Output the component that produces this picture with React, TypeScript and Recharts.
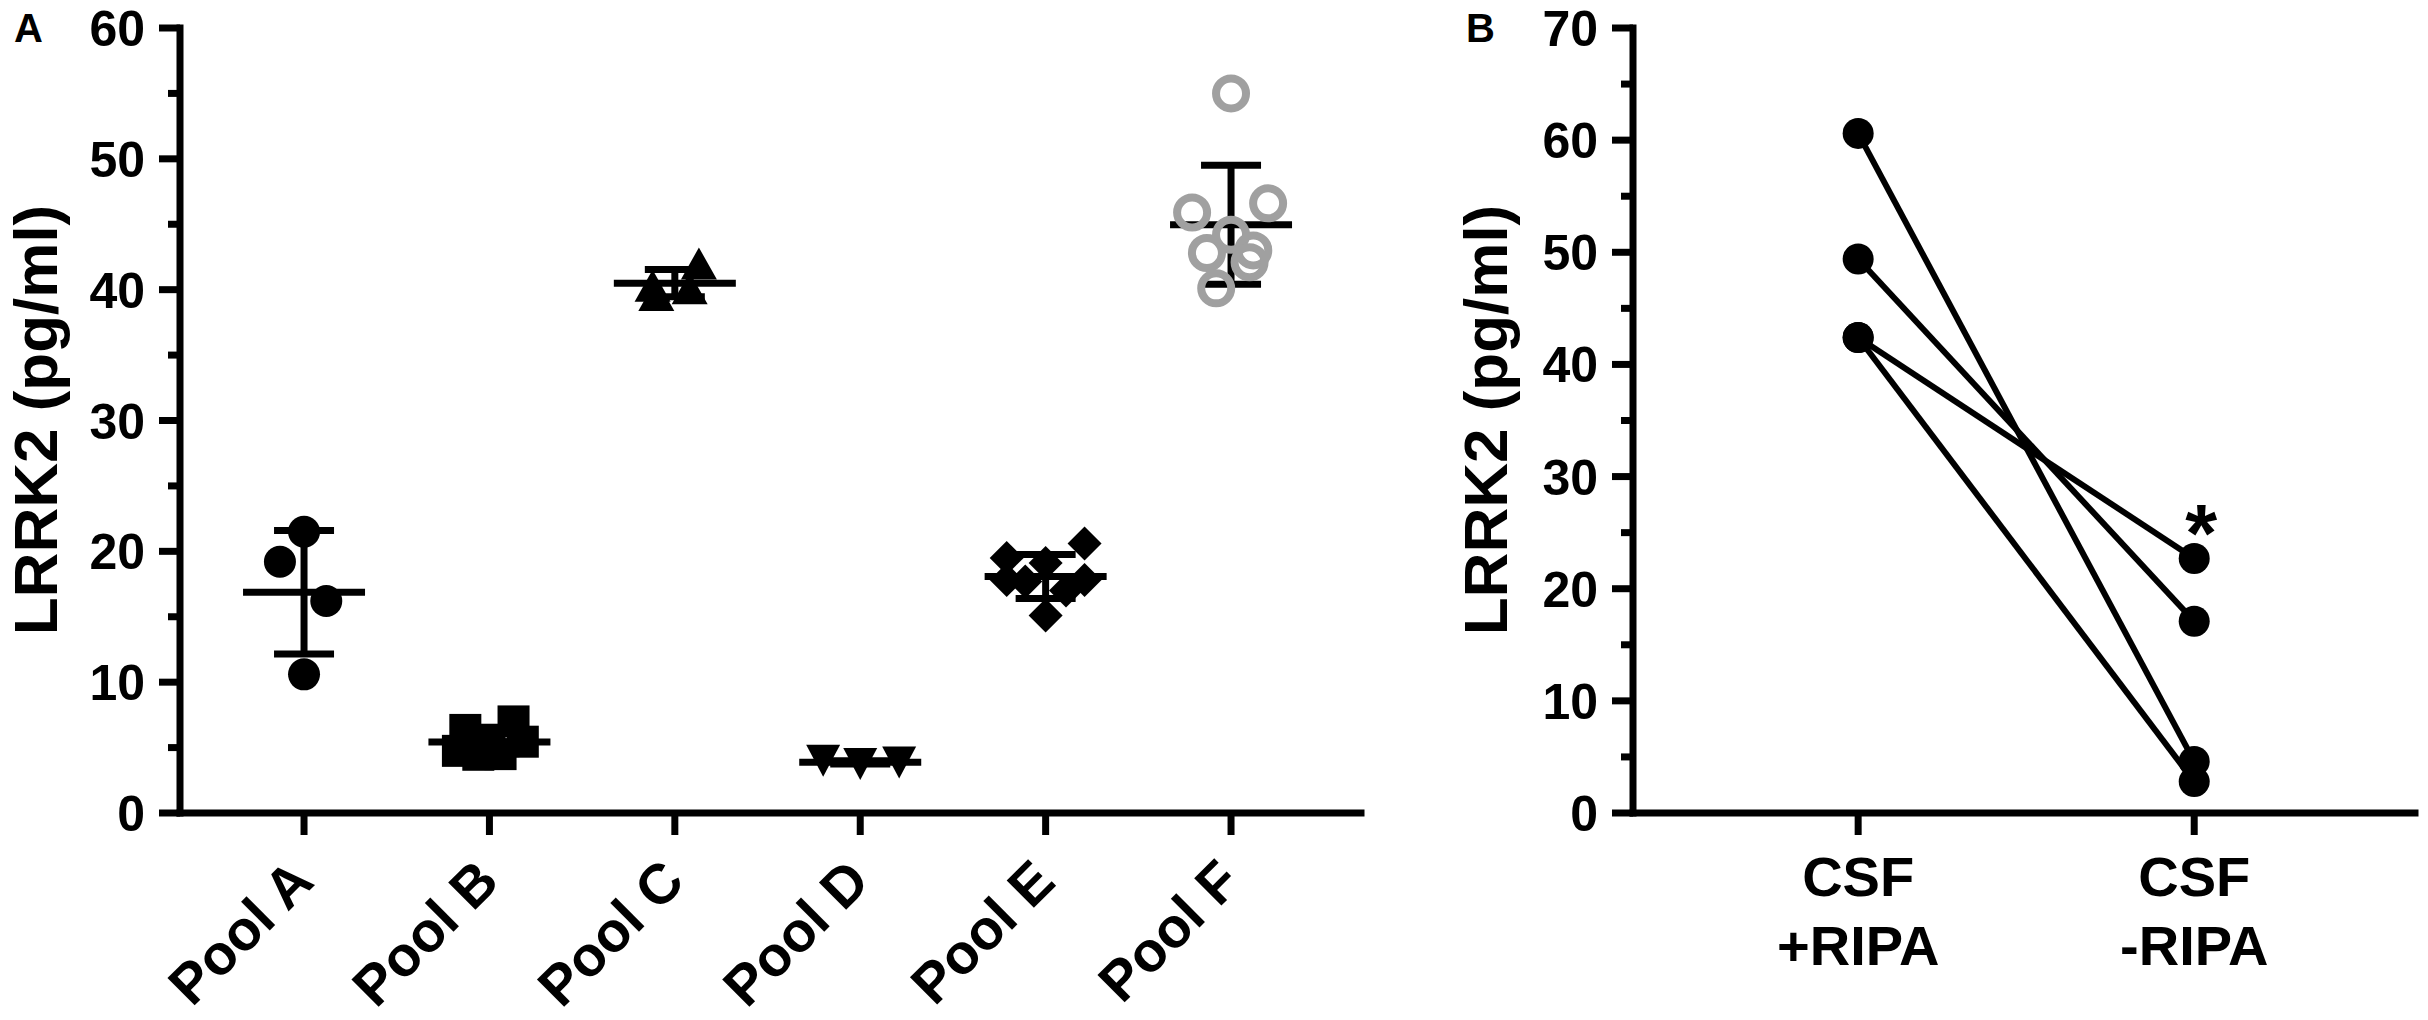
import React from "react";
import {
  ScatterChart, Scatter, ComposedChart, Line, XAxis, YAxis, ErrorBar, LabelList,
} from "recharts";

const FONT = '"Liberation Sans", Arial, Helvetica, sans-serif';

// Panel A — LRRK2 in six CSF pools, individual values + mean ± SD
const pools = ["Pool A", "Pool B", "Pool C", "Pool D", "Pool E", "Pool F"];
const poolA = [21.5, 19.2, 16.2, 10.6];
const poolB = [6.35, 7.0, 5.45, 4.75, 4.45, 4.5, 5.6, 5.3];
const poolC = [42.0, 40.3, 39.6, 40.1];
const poolD = [4.0, 3.75, 3.86];
const poolE = [20.6, 19.5, 19.1, 17.7, 17.8, 17.0, 15.1, 17.8];
const poolF = [55.0, 45.9, 46.6, 44.2, 42.8, 43.0, 42.1, 40.1];
// horizontal scatter of the points inside each column (category units)
const spreadA = [0, -0.13, 0.12, 0];
const spreadB = [-0.13, 0.13, 0.18, -0.17, -0.06, 0.06, 0.0, -0.1];
const spreadC = [0.13, -0.12, -0.1, 0.08];
const spreadD = [-0.2, 0, 0.21];
const spreadE = [0.21, -0.21, 0, -0.11, 0.21, 0.11, 0, -0.21];
const spreadF = [0, -0.21, 0.2, 0, -0.13, 0.12, 0.1, -0.08];
const ticksA = [0, 5, 10, 15, 20, 25, 30, 35, 40, 45, 50, 55, 60];

// Panel B — paired CSF samples with / without RIPA
const conditions = [["CSF", "+RIPA"], ["CSF", "-RIPA"]];
const withRipa = [60.6, 49.4, 42.4, 42.4];
const withoutRipa = [4.6, 17.1, 22.7, 2.8];
const starSample = 2; // sample marked with *
const ticksB = [0, 5, 10, 15, 20, 25, 30, 35, 40, 45, 50, 55, 60, 65, 70];

const mean = (v: number[]) => v.reduce((a, b) => a + b, 0) / v.length;
const sd = (v: number[]) => {
  const m = mean(v);
  return Math.sqrt(v.reduce((a, b) => a + (b - m) * (b - m), 0) / (v.length - 1));
};

const txt = { fontFamily: FONT, fontWeight: 700, fill: "#000" } as const;

// marker shapes
const dot = (p: any) => <circle cx={p.cx} cy={p.cy} r={16} fill="#000" />;
const square = (p: any) => <rect x={p.cx - 16} y={p.cy - 16} width={32} height={32} fill="#000" />;
const triUp = (p: any) => (
  <path d={`M${p.cx},${p.cy - 16} L${p.cx + 18},${p.cy + 16} L${p.cx - 18},${p.cy + 16} Z`} fill="#000" />
);
const triDown = (p: any) => (
  <path d={`M${p.cx - 17},${p.cy - 16} L${p.cx + 17},${p.cy - 16} L${p.cx},${p.cy + 16} Z`} fill="#000" />
);
const diamond = (p: any) => (
  <path d={`M${p.cx},${p.cy - 17} L${p.cx + 17},${p.cy} L${p.cx},${p.cy + 17} L${p.cx - 17},${p.cy} Z`} fill="#000" />
);
const ring = (p: any) => <circle cx={p.cx} cy={p.cy} r={15} fill="none" stroke="#a0a0a0" strokeWidth={8} />;
const meanLine = (p: any) => (
  <line x1={p.cx - 61} y1={p.cy} x2={p.cx + 61} y2={p.cy} stroke="#000" strokeWidth={7} />
);

const groups = [
  { values: poolA, spread: spreadA, shape: dot },
  { values: poolB, spread: spreadB, shape: square },
  { values: poolC, spread: spreadC, shape: triUp },
  { values: poolD, spread: spreadD, shape: triDown },
  { values: poolE, spread: spreadE, shape: diamond },
  { values: poolF, spread: spreadF, shape: ring },
];

// y ticks: long tick + label every 10, short tick at 5s
const YTick = (p: any) => {
  const v = p.payload.value;
  const major = v % 10 === 0;
  return (
    <g>
      <line x1={p.x - (major ? 21 : 12)} y1={p.y} x2={p.x} y2={p.y} stroke="#000" strokeWidth={7} />
      {major && (
        <text x={p.x - 35} y={p.y + 18} textAnchor="end" fontSize={50} style={txt}>
          {v}
        </text>
      )}
    </g>
  );
};

const PoolTick = (p: any) => {
  const ax = p.x + 12;
  const ay = p.y + 71;
  return (
    <g>
      <line x1={p.x} y1={p.y} x2={p.x} y2={p.y + 22} stroke="#000" strokeWidth={7} />
      <text x={ax} y={ay} textAnchor="end" fontSize={56} style={txt} transform={`rotate(-45, ${ax}, ${ay})`}>
        {pools[p.payload.value]}
      </text>
    </g>
  );
};

const CondTick = (p: any) => {
  const lines = conditions[p.payload.value];
  return (
    <g>
      <line x1={p.x} y1={p.y} x2={p.x} y2={p.y + 22} stroke="#000" strokeWidth={7} />
      <text textAnchor="middle" fontSize={56} style={txt}>
        <tspan x={p.x} y={p.y + 83}>{lines[0]}</tspan>
        <tspan x={p.x} y={p.y + 152}>{lines[1]}</tspan>
      </text>
    </g>
  );
};

const title = (x: number, letter: string, lx: number) => () => (
  <g>
    <text x={lx} y={42} fontSize={40} style={txt}>{letter}</text>
    <text x={x} y={420} textAnchor="middle" fontSize={62} style={txt} transform={`rotate(-90, ${x}, 420)`}>
      LRRK2 (pg/ml)
    </text>
  </g>
);

const axisLine = { stroke: "#000", strokeWidth: 7, strokeLinecap: "square" as const };

function PanelA() {
  return (
    <ScatterChart width={1400} height={1020} margin={{ top: 28, right: 39, bottom: 7, left: 0 }}>
      <XAxis
        type="number" dataKey="x" domain={[-0.669, 5.701]} ticks={[0, 1, 2, 3, 4, 5]} interval={0}
        height={200} axisLine={axisLine} tickLine={false} tickSize={0} tickMargin={0} tick={<PoolTick />}
      />
      <YAxis
        type="number" dataKey="y" domain={[0, 60]} ticks={ticksA} interval={0}
        width={180} axisLine={axisLine} tickLine={false} tickSize={0} tickMargin={0} tick={<YTick />}
        label={title(57, "A", 14)}
      />
      {groups.map((g, i) => (
        <Scatter
          key={`m${i}`} data={[{ x: i, y: mean(g.values), sd: sd(g.values) }]}
          shape={meanLine} isAnimationActive={false}
        >
          <ErrorBar dataKey="sd" direction="y" width={30} stroke="#000" strokeWidth={7} isAnimationActive={false} />
        </Scatter>
      ))}
      {groups.map((g, i) => (
        <Scatter
          key={`p${i}`} data={g.values.map((v, k) => ({ x: i + g.spread[k], y: v }))}
          shape={g.shape} isAnimationActive={false}
        />
      ))}
    </ScatterChart>
  );
}

const pairRows = [0, 1].map((c) => {
  const row: any = { x: c };
  (c === 0 ? withRipa : withoutRipa).forEach((v, k) => (row[`s${k}`] = v));
  return row;
});

const bDot = (p: any) => <circle key={`${p.dataKey}-${p.index}`} cx={p.cx} cy={p.cy} r={15.5} fill="#000" />;

const Star = (p: any) =>
  p.index === 1 ? (
    <text x={p.x + 7} y={p.y + 3} textAnchor="middle" fontSize={82} style={txt}>*</text>
  ) : null;

function PanelB() {
  return (
    <ComposedChart width={1028} height={1020} data={pairRows} margin={{ top: 28, right: 13, bottom: 7, left: 0 }}>
      <XAxis
        type="number" dataKey="x" domain={[-0.67, 1.657]} ticks={[0, 1]} interval={0}
        height={200} axisLine={axisLine} tickLine={false} tickSize={0} tickMargin={0} tick={<CondTick />}
      />
      <YAxis
        type="number" domain={[0, 70]} ticks={ticksB} interval={0}
        width={233} axisLine={axisLine} tickLine={false} tickSize={0} tickMargin={0} tick={<YTick />}
        label={title(107, "B", 66)}
      />
      {withRipa.map((_, k) => (
        <Line
          key={k} type="linear" dataKey={`s${k}`} stroke="#000" strokeWidth={6}
          dot={bDot} activeDot={false} isAnimationActive={false}
        >
          {k === starSample && <LabelList dataKey={`s${k}`} content={<Star />} />}
        </Line>
      ))}
    </ComposedChart>
  );
}

export default function App() {
  return (
    <div style={{ position: "absolute", left: 0, top: 0, width: 2428, height: 1020, background: "#fff" }}>
      <div style={{ position: "absolute", left: 0, top: 0 }}>
        <PanelA />
      </div>
      <div style={{ position: "absolute", left: 1400, top: 0 }}>
        <PanelB />
      </div>
    </div>
  );
}
